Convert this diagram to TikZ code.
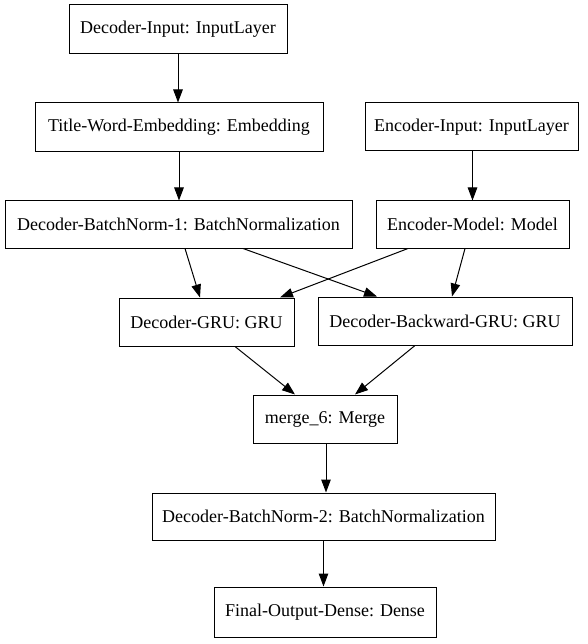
\documentclass[tikz,border=0pt]{standalone}
\usepackage{fontspec}
\setmainfont{Liberation Serif}
\usetikzlibrary{arrows.meta}
\begin{document}
\begin{tikzpicture}[x=1pt,y=-1pt,
  layer/.style={draw=black,line width=1pt,inner sep=0pt,font=\fontsize{18}{20}\selectfont},
  edge/.style={draw=black,line width=1pt,-{Triangle[length=13pt,width=9.5pt]}}]
\fill[white] (0,0) rectangle (587,644);
\useasboundingbox (0,0) rectangle (587,644);
\node[layer,minimum width=218pt,minimum height=49pt] (din) at (178,29.5) {Decoder-Input: InputLayer};
\node[layer,minimum width=288pt,minimum height=49pt] (emb) at (179,127.5) {Title-Word-Embedding: Embedding};
\node[layer,minimum width=213pt,minimum height=48pt] (ein) at (471.5,127) {Encoder-Input: InputLayer};
\node[layer,minimum width=347pt,minimum height=47pt] (bn1) at (178.5,224.5) {Decoder-BatchNorm-1: BatchNormalization};
\node[layer,minimum width=193pt,minimum height=47pt] (enc) at (472.5,224.5) {Encoder-Model: Model};
\node[layer,minimum width=175pt,minimum height=48pt] (gru) at (206.5,322) {Decoder-GRU: GRU};
\node[layer,minimum width=254pt,minimum height=48pt] (bgru) at (445,321) {Decoder-Backward-GRU: GRU};
\node[layer,minimum width=144pt,minimum height=48pt] (mrg) at (325,419) {merge\_6: Merge};
\node[layer,minimum width=343pt,minimum height=47pt] (bn2) at (323.5,516.5) {Decoder-BatchNorm-2: BatchNormalization};
\node[layer,minimum width=222pt,minimum height=50pt] (out) at (325,612) {Final-Output-Dense: Dense};
\draw[edge] (din.south) -- (din.south |- emb.north);
\draw[edge] (emb.south) -- (emb.south |- bn1.north);
\draw[edge] ([xshift=1pt]ein.south) -- ([xshift=1pt]ein.south |- enc.north);
\draw[edge] ([xshift=6.5pt]bn1.south) -- ([xshift=-6.5pt]gru.north);
\draw[edge] ([xshift=64.5pt]bn1.south) -- ([xshift=-68pt]bgru.north);
\draw[edge] ([xshift=-64.5pt]enc.south) -- ([xshift=73.5pt]gru.north);
\draw[edge] ([xshift=-7.5pt]enc.south) -- ([xshift=7pt]bgru.north);
\draw[edge] ([xshift=28.5pt]gru.south) -- ([xshift=-30pt]mrg.north);
\draw[edge] ([xshift=-30pt]bgru.south) -- ([xshift=30pt]mrg.north);
\draw[edge] ([xshift=1pt]mrg.south) -- ([xshift=1pt]mrg.south |- bn2.north);
\draw[edge] (bn2.south) -- (bn2.south |- out.north);
\end{tikzpicture}
\end{document}
